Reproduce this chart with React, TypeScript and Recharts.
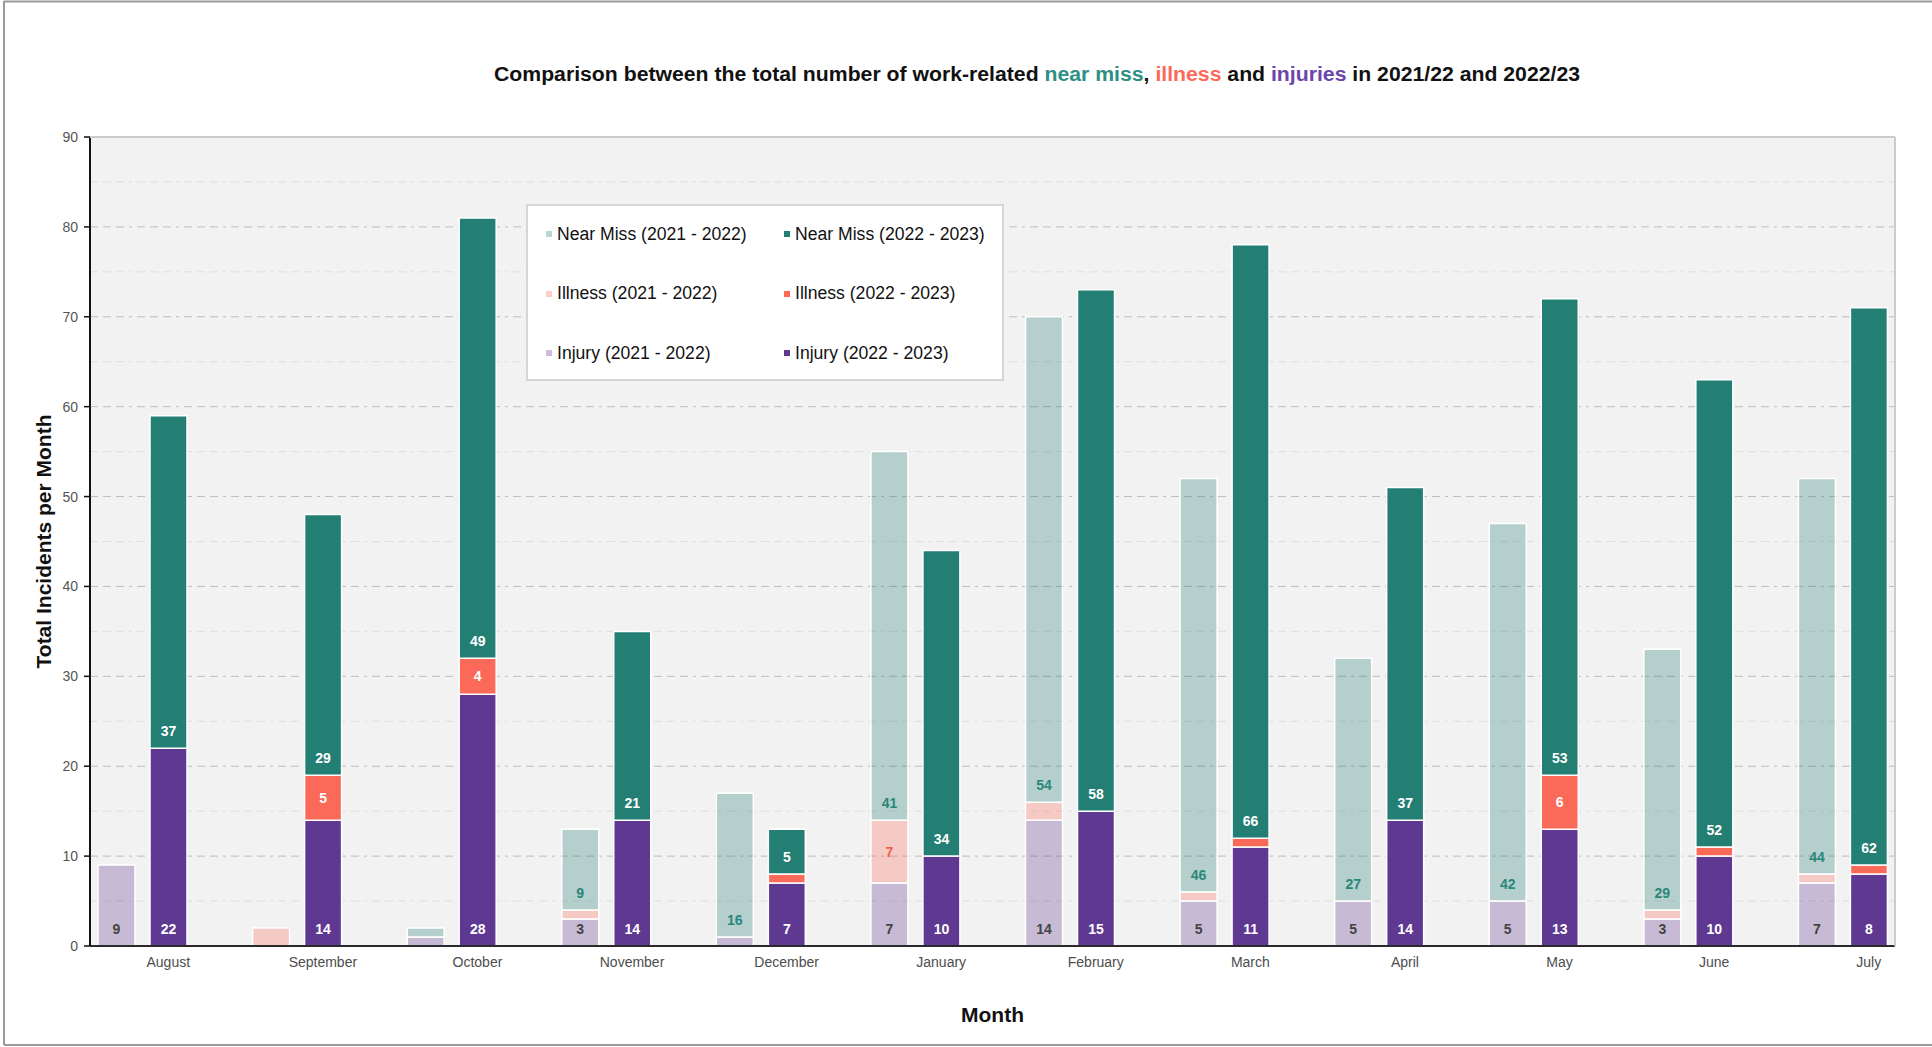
import React from 'react'
import { BarChart, Bar, XAxis, YAxis, CartesianGrid, Legend, LabelList } from 'recharts'

// Monthly incident counts, financial year Aug–Jul
const MONTHS = [
  'August', 'September', 'October', 'November', 'December', 'January',
  'February', 'March', 'April', 'May', 'June', 'July',
]

const NEAR_MISS_PREV = [0, 0, 1, 9, 16, 41, 54, 46, 27, 42, 29, 44]
const ILLNESS_PREV = [0, 2, 0, 1, 0, 7, 2, 1, 0, 0, 1, 1]
const INJURY_PREV = [9, 0, 1, 3, 1, 7, 14, 5, 5, 5, 3, 7]

const NEAR_MISS_CURR = [37, 29, 49, 21, 5, 34, 58, 66, 37, 53, 52, 62]
const ILLNESS_CURR = [0, 5, 4, 0, 1, 0, 0, 1, 0, 6, 1, 1]
const INJURY_CURR = [22, 14, 28, 14, 7, 10, 15, 11, 14, 13, 10, 8]

const Y_TICKS = [0, 10, 20, 30, 40, 50, 60, 70, 80, 90]
const MAJOR_GRID = [10, 20, 30, 40, 50, 60, 70, 80]
const MINOR_GRID = [5, 15, 25, 35, 45, 55, 65, 75, 85]

const TEAL = '#237e74'
const RED = '#fb6a58'
const PURPLE = '#5f3891'
const PREV_OPACITY = 0.3

const WIDTH = 1932
const HEIGHT = 1047
const MARGIN = { top: 137, right: 37, bottom: 61, left: 30 }
const Y_AXIS_WIDTH = 60
const X_AXIS_HEIGHT = 40
const PLOT_LEFT = MARGIN.left + Y_AXIS_WIDTH
const PLOT_RIGHT = WIDTH - MARGIN.right
const PLOT_TOP = MARGIN.top
const PLOT_BOTTOM = HEIGHT - MARGIN.bottom - X_AXIS_HEIGHT
const BAR_SIZE = 37
const BAR_GAP = 15
const FONT = '"Liberation Sans", Arial, Helvetica, sans-serif'

const chartData = MONTHS.map((month, i) => ({
  month,
  nearMissPrev: NEAR_MISS_PREV[i],
  illnessPrev: ILLNESS_PREV[i],
  injuryPrev: INJURY_PREV[i],
  nearMissCurr: NEAR_MISS_CURR[i],
  illnessCurr: ILLNESS_CURR[i],
  injuryCurr: INJURY_CURR[i],
}))

type LabelMode = 'bottom' | 'center'

interface Series {
  key: string
  name: string
  stack: string
  color: string
  opacity: number
  labelColor: string
  labelMode: LabelMode
}

// stacking order: injury at the base, illness, then near miss on top
const SERIES: Series[] = [
  { key: 'injuryPrev', name: 'Injury (2021 - 2022)', stack: 'prev', color: PURPLE, opacity: PREV_OPACITY, labelColor: '#444444', labelMode: 'bottom' },
  { key: 'illnessPrev', name: 'Illness (2021 - 2022)', stack: 'prev', color: RED, opacity: PREV_OPACITY, labelColor: '#f0604f', labelMode: 'center' },
  { key: 'nearMissPrev', name: 'Near Miss (2021 - 2022)', stack: 'prev', color: TEAL, opacity: PREV_OPACITY, labelColor: '#2a877c', labelMode: 'bottom' },
  { key: 'injuryCurr', name: 'Injury (2022 - 2023)', stack: 'curr', color: PURPLE, opacity: 1, labelColor: '#ffffff', labelMode: 'bottom' },
  { key: 'illnessCurr', name: 'Illness (2022 - 2023)', stack: 'curr', color: RED, opacity: 1, labelColor: '#ffffff', labelMode: 'center' },
  { key: 'nearMissCurr', name: 'Near Miss (2022 - 2023)', stack: 'curr', color: TEAL, opacity: 1, labelColor: '#ffffff', labelMode: 'bottom' },
]

const LEGEND_ORDER = ['nearMissPrev', 'nearMissCurr', 'illnessPrev', 'illnessCurr', 'injuryPrev', 'injuryCurr']

const seriesByKey: Record<string, Series> = Object.fromEntries(SERIES.map((s) => [s.key, s]))

// segments too thin to hold a number stay unlabelled
const MIN_LABEL_VALUE = 3

const makeLabel = (s: Series) => (props: any) => {
  const { value } = props
  if (value == null || Number(value) < MIN_LABEL_VALUE) return null
  const vb = props.viewBox ?? props
  const x = Number(vb.x)
  const w = Number(vb.width)
  const h = Math.abs(Number(vb.height))
  const top = Math.min(Number(vb.y), Number(vb.y) + Number(vb.height))
  const ty = s.labelMode === 'center' ? top + h / 2 + 5 : top + h - 12
  return (
    <text
      x={x + w / 2}
      y={ty}
      textAnchor="middle"
      fill={s.labelColor}
      fontSize={14}
      fontWeight="bold"
      fontFamily={FONT}
    >
      {value}
    </text>
  )
}

// month name sits under the 2022/23 bar of each pair
const MonthTick = ({ x, y, payload }: any) => (
  <text
    x={x + BAR_SIZE / 2 + BAR_GAP / 2}
    y={y}
    dy={11}
    textAnchor="middle"
    fill="#4d4d4d"
    fontSize={14}
    fontFamily={FONT}
  >
    {payload.value}
  </text>
)

const LegendBox = ({ payload }: any) => {
  const items = LEGEND_ORDER.map((k) => (payload ?? []).find((p: any) => p.dataKey === k)).filter(Boolean)
  return (
    <div
      style={{
        position: 'relative',
        width: '100%',
        height: '100%',
        boxSizing: 'border-box',
        background: '#ffffff',
        border: '2px solid #d6d6d6',
        fontFamily: FONT,
        fontSize: 17.6,
        color: '#111111',
      }}
    >
      {items.map((item: any, i: number) => {
        const s = seriesByKey[item.dataKey]
        const col = i % 2
        const row = Math.floor(i / 2)
        return (
          <div
            key={item.dataKey}
            style={{
              position: 'absolute',
              left: col ? 256 : 18,
              top: 16 + row * 59.5,
              height: 24,
              display: 'flex',
              alignItems: 'center',
              whiteSpace: 'nowrap',
            }}
          >
            <span
              style={{
                display: 'inline-block',
                width: 6,
                height: 6,
                marginRight: 5,
                background: s ? s.color : item.color,
                opacity: s ? Math.max(s.opacity, 0.32) : 1,
              }}
            />
            {item.value}
          </div>
        )
      })}
    </div>
  )
}

export default function App() {
  return (
    <div style={{ position: 'absolute', left: 0, top: 0, width: WIDTH, height: HEIGHT, background: '#ffffff' }}>
      <BarChart
        width={WIDTH}
        height={HEIGHT}
        data={chartData}
        margin={MARGIN}
        barSize={BAR_SIZE}
        barGap={BAR_GAP}
      >
        <CartesianGrid
          vertical={false}
          horizontalValues={MINOR_GRID}
          fill="#f2f2f2"
          stroke="#dedede"
          strokeDasharray="8 5 8 5 8 5 3 5"
        />
        <CartesianGrid
          vertical={false}
          horizontalValues={MAJOR_GRID}
          stroke="#bdbdbd"
          strokeDasharray="8 5 8 5 8 5 3 5"
        />
        <XAxis
          dataKey="month"
          height={X_AXIS_HEIGHT}
          padding={{ left: -25, right: -25 }}
          axisLine={{ stroke: '#2a2a2a', strokeWidth: 2 }}
          tickLine={false}
          tickMargin={4}
          tick={<MonthTick />}
          interval={0}
        />
        <YAxis
          width={Y_AXIS_WIDTH}
          domain={[0, 90]}
          ticks={Y_TICKS}
          interval={0}
          axisLine={{ stroke: '#111111', strokeWidth: 2 }}
          tickLine={{ stroke: '#111111', strokeWidth: 1.5 }}
          tickSize={6}
          tickMargin={6}
          tick={{ fill: '#555555', fontSize: 14, fontFamily: FONT }}
        />
        <Legend
          layout="vertical"
          align="center"
          verticalAlign="middle"
          content={<LegendBox />}
          wrapperStyle={{ left: 526, top: 204, width: 478, height: 177 }}
        />
        {SERIES.map((s) => (
          <Bar
            key={s.key}
            dataKey={s.key}
            name={s.name}
            stackId={s.stack}
            fill={s.color}
            fillOpacity={s.opacity}
            stroke="#ffffff"
            strokeWidth={1.5}
            isAnimationActive={false}
          >
            <LabelList dataKey={s.key} content={makeLabel(s)} />
          </Bar>
        ))}
      </BarChart>

      <svg
        width={WIDTH}
        height={HEIGHT}
        style={{ position: 'absolute', left: 0, top: 0, pointerEvents: 'none' }}
      >
        {/* page frame */}
        <line x1={4} y1={1.5} x2={WIDTH} y2={1.5} stroke="#9a9a9a" strokeWidth={2} />
        <line x1={4} y1={1} x2={4} y2={HEIGHT - 2} stroke="#9a9a9a" strokeWidth={2} />
        <line x1={4} y1={HEIGHT - 2} x2={WIDTH} y2={HEIGHT - 2} stroke="#9a9a9a" strokeWidth={2} />
        {/* plot frame, top and right */}
        <line x1={PLOT_LEFT} y1={PLOT_TOP} x2={PLOT_RIGHT} y2={PLOT_TOP} stroke="#cccccc" strokeWidth={2} />
        <line x1={PLOT_RIGHT} y1={PLOT_TOP} x2={PLOT_RIGHT} y2={PLOT_BOTTOM} stroke="#cccccc" strokeWidth={2} />

        <text
          x={1037}
          y={81}
          textAnchor="middle"
          fontFamily={FONT}
          fontSize={20}
          fontWeight="bold"
          fill="#111111"
          textLength={1086}
          lengthAdjust="spacingAndGlyphs"
        >
          Comparison between the total number of work-related{' '}
          <tspan fill="#2e8f84">near miss</tspan>
          {', '}
          <tspan fill={RED}>illness</tspan>
          {' and '}
          <tspan fill="#6b45a8">injuries</tspan>
          {' in 2021/22 and 2022/23'}
        </text>

        <text
          x={44}
          y={(PLOT_TOP + PLOT_BOTTOM) / 2}
          transform={`rotate(-90 44 ${(PLOT_TOP + PLOT_BOTTOM) / 2})`}
          dy="0.35em"
          textAnchor="middle"
          fontFamily={FONT}
          fontSize={21}
          fontWeight="bold"
          fill="#111111"
        >
          Total Incidents per Month
        </text>

        <text
          x={(PLOT_LEFT + PLOT_RIGHT) / 2}
          y={1022}
          textAnchor="middle"
          fontFamily={FONT}
          fontSize={21}
          fontWeight="bold"
          fill="#111111"
        >
          Month
        </text>
      </svg>
    </div>
  )
}
